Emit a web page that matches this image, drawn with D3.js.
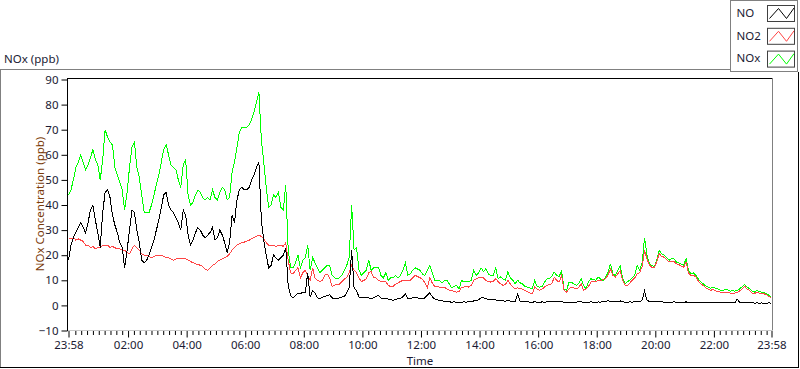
<!DOCTYPE html>
<html><head><meta charset="utf-8">
<script src="https://cdn.jsdelivr.net/npm/d3@7"></script>
<style>
html,body{margin:0;padding:0;background:#fff;}
svg{display:block;font-family:"Noto Sans",sans-serif;}
</style></head><body>
<svg id="c" width="800" height="369"></svg>
<script>
// ---- data (5-minute samples starting 23:58) ----
const NOX = [
44,46,50,55,57,60,57,54,56,59,
62,58,56,50,58,70,67,65,64,55,
52,49,46,38,45,55,63,65,55,51,
44,37,37,37,40,44,48,52,57,62,
64,60,56,55,54,50,47,56,58,44,
40,41,44,46,45,43,42,43,42,46,
43,42,45,47,46,42,43,53,57,63,
69,71,71,71,72,74,77,81,85,66,
57,47,39,40,44,43,45,39,38,48,
22,15,15,17,20,15,18,19,24,14,
19,17,15,13,14,15,16,16,12,11,
10.5,11,12,14,16,19,40,22,23,14,
12,13,14,18,14,15,15,15,12,11,
13,10,11,11,12,11,12,14,17,12,
12.5,14,15,14.5,14,12.5,12,14,16,13,
10,10,10,9,10,10,8.5,7,7.5,8,
6.5,10,9.3,9.5,9.3,10,13.9,12,13,15,
13.5,14.6,12.5,12,12,15,10.6,11.3,10.5,10,
13.3,11,10,8.6,10,9,8.6,7.5,7.3,7,
6.6,10,7.5,7.3,7.5,9.3,10.5,10.6,11.5,13.3,
12,11.3,14,6.6,6,9,9.3,8.6,8,8.6,
10.6,8,6.6,9.3,10.6,10.3,10,11.3,10.5,10,
11.3,13,16.6,12.6,11.9,14,15.9,11,8.6,9.5,
10,11,12,16,14,17,27,20,16.6,15.9,
15.5,18,21.9,20.6,20,19,18,18.5,18.6,17.3,
17,16.5,16,18.6,14,12.6,13,12,10.5,9.5,
8.6,7.8,7.3,6.8,7.3,6.8,6.6,6,6,6.3,
6.3,5.7,5.8,5.7,6,6.6,7.5,8.3,7.3,6.6,
5.8,5.3,6,5.5,5.3,5,4.6,4,3.3
];
const NO2 = [
27,26.5,27,26,26.5,26,25.5,24,24,23,
23.5,22.5,23,23,24,24,24,23,23.5,23,
22.5,22.5,22,22,21,20.5,22.5,24,23,22,
20.5,20,20,19.5,19,19.5,20,20,20,19.5,
19,19,18.5,18,18.5,18.6,18.5,18.8,18.6,18,
17.5,17,16.6,16.3,16,15.5,14.5,14,15,16,
16.5,17.5,18,18.5,19,19.5,20.5,22,23,24,
24.6,25,25.2,25.6,26,26.5,27,27.5,28,27.5,
26.5,25,24,24,24,23.5,24,24,23.5,25,
18,13,12.5,14,15,11,13,14,12,10,
15,11,10,9.5,10,12,12.5,11,7.5,8,
8.5,8.5,9.5,10.5,11,13,16,14,13,11,
9.5,10,10.5,13,13.5,11,11,10,9.5,9.5,
9.3,8,7.5,7.5,8.5,9,9.5,10,10,10,
10,11,12,11.5,11,10.5,9,7,11,9,
7.5,7.5,7.3,7,7.3,6.5,6,6,5.5,5.3,
5.5,7.3,7.3,7.5,7.3,8,10,10.5,11,11.3,
11,10,9.5,9.3,9.5,10.6,9.5,8.6,8,8.3,
10,8.5,7.5,6.6,7,6.6,6.5,6,5.5,5,
4.6,7.3,6.5,6,6.5,7.3,8,8.3,8.6,11.3,
10,9.3,11.9,6,5.3,6.5,7.3,7,6.6,7,
8.6,6,6.5,7.5,9.3,9.5,9.5,10,10,10.3,
10.6,12,14.6,12,11.3,12.5,13.9,10,8,8,
9,10,11,12.6,13,15.5,21.9,18.5,16,15.2,
15,17.5,20.6,19.5,19.2,18.3,17.3,17.5,17.6,16.6,
16.3,15.6,15.2,17.3,13,11.9,12,11.3,9.8,8.6,
8,7,6.5,6,6.3,5.8,5.5,5.3,5.2,5.3,
5.3,4.9,4.9,4.9,5.2,5.8,6.6,7.6,6.6,6,
5,4.6,5.3,4.8,4.6,4.6,4.2,3.5,2.9
];
const NO = [
18,24,27,29,31,33,31,29,33,38,
40,34,29,23,37,45,46,43,36,32,
29,25,23,15,22,30,38,37,30,25,
18,17,18,20,23,26,30,34,39,44,
45,40,38,37,35,33,30,38,36,28,
24,26,29,31,30,28,27,28,29,31,
26,27,30,28,25,21,25,36,33,42,
46,47,46,46,47,50,52,55,57,34,
26,20,15,16,20,19,18,19,20,23,
8,4,3,4,5,4.6,5.3,5,13,3.3,
6,5,3,2.6,3.3,3.5,4,4.2,3,2.6,
2.8,3,3.3,3.5,5,7,22,7,6,3.3,
3,3.3,3.3,3,2.6,3,3.5,4,3,2.6,
2.8,2.5,2.3,2,2.4,2.6,2.8,3.5,4.6,2.6,
2.8,3,3.3,3,2.8,2.6,3,4,5,3.5,
2.6,2.3,2,1.8,1.6,1.5,1.4,1.3,1.4,1.3,
1.3,1.3,1.4,1.3,1.5,1.4,1.8,2,2.2,3,
3,2.6,2.4,2.3,2.5,2.2,2,2,1.8,1.7,
2,1.7,1.6,1.6,4.4,1.7,1.6,1.5,1.4,1.3,
1.3,1.4,1.3,1.2,1.4,1.3,1.4,1.5,1.4,1.6,
1.5,1.4,1.5,1.2,1.1,1.3,1.3,1.2,1.3,1.4,
1.5,1.2,1.2,1.3,1.4,1.3,1.2,1.4,1.3,1.5,
1.6,1.8,1.7,1.5,1.4,1.6,1.8,1.4,1.3,1.3,
1.4,1.3,1.5,1.6,1.4,2.2,5.7,2,1.6,1.5,
1.4,1.5,1.6,1.4,1.3,1.2,1.3,1.2,1.4,1.3,
1.2,1.1,1.2,1.4,1.1,1,1.1,1,1.2,1,
1.1,1,1.2,1.1,1,1.1,1,1.2,1.1,1,
1.1,1.3,1.2,1,2.5,1.1,1,1.2,1,1,
1.1,0.9,1,0.9,1,0.8,0.9,1,0.8
];
const xTickLabels = ["23:58","02:00","04:00","06:00","08:00","10:00","12:00","14:00","16:00","18:00","20:00","22:00","23:58"];
const yTickValues = [-10,0,10,20,30,40,50,60,70,80,90];
const seriesNames = ["NO","NO2","NOx"];
const seriesColors = ["#000000","#ff4545","#00ff00"];
const stepMinutes = 5;

// ---- setup ----
const svg = d3.select("#c");
const start = new Date(2000,0,1,23,58);
const end = new Date(2000,0,2,23,58);
const times = NO.map((_,i)=> new Date(start.getTime()+i*stepMinutes*60000));

const x = d3.scaleTime().domain([start,end]).range([68.5,771.5]);
const y = d3.scaleLinear().domain([-10,90]).range([330.5,79.5]);

const labelColor = "#1a1a33";

// outer panel frame
svg.append("line").attr("x1",0).attr("x2",731).attr("y1",69.5).attr("y2",69.5).attr("stroke","#808080");
svg.append("line").attr("x1",0.5).attr("x2",0.5).attr("y1",69).attr("y2",368).attr("stroke","#808080");
svg.append("line").attr("x1",0).attr("x2",799).attr("y1",367.5).attr("y2",367.5).attr("stroke","#000");
svg.append("line").attr("x1",798.5).attr("x2",798.5).attr("y1",72).attr("y2",368).attr("stroke","#000");

// title
svg.append("text").attr("x",4).attr("y",62.5).attr("font-size","11.5px").attr("fill",labelColor).text("NOx (ppb)");

// plot frame
svg.append("line").attr("x1",67).attr("x2",773).attr("y1",78.5).attr("y2",78.5).attr("stroke","#000");
svg.append("line").attr("x1",772.5).attr("x2",772.5).attr("y1",78).attr("y2",331).attr("stroke","#808080");
svg.append("line").attr("x1",67).attr("x2",773).attr("y1",330.5).attr("y2",330.5).attr("stroke","#c8c8c8");

// clip
svg.append("clipPath").attr("id","clip").append("rect").attr("x",68).attr("y",79).attr("width",704).attr("height",252);

// lines: NOx, NO2, NO (black on top)
const series = [NO, NO2, NOX];
const order = [2,1,0];
const g = svg.append("g").attr("clip-path","url(#clip)");
order.forEach(k=>{
  const line = d3.line().x((d,i)=>x(times[i])).y(d=>y(d));
  g.append("path").datum(series[k]).attr("fill","none").attr("stroke",seriesColors[k])
   .attr("stroke-width",1).attr("shape-rendering","crispEdges").attr("d",line);
});

// left axis line
svg.append("line").attr("x1",67.5).attr("x2",67.5).attr("y1",78).attr("y2",331).attr("stroke","#000");

// y axis
const yAxis = d3.axisLeft(y).tickValues(yTickValues).tickSize(6).tickPadding(3).tickFormat(d3.format("d"));
const ya = svg.append("g").attr("transform","translate(67.5,0)").call(yAxis);
ya.select(".domain").remove();
ya.selectAll("line").attr("stroke","#000");
ya.selectAll("text").attr("font-size","11.5px").attr("fill",labelColor).attr("font-family","Noto Sans");

// x axis: major and minor ticks
const parseT = (s,i)=>{ const [h,m]=s.split(":").map(Number); return new Date(2000,0, i===0?1:2, h, m); };
const majorDates = xTickLabels.map(parseT);
const minorDates = [];
for (let t = new Date(2000,0,2,0,12); t < end; t = new Date(t.getTime()+12*60000)) {
  if (t.getMinutes()!==0 || t.getHours()%2!==0) minorDates.push(t);
}
const xMinor = d3.axisBottom(x).tickValues(minorDates).tickSize(4).tickFormat("");
const xm = svg.append("g").attr("transform","translate(0,331)").call(xMinor);
xm.select(".domain").remove();
xm.selectAll("line").attr("stroke","#000");
const xAxis = d3.axisBottom(x).tickValues(majorDates).tickSize(6.5).tickPadding(3)
  .tickFormat((d,i)=>xTickLabels[i]);
const xa = svg.append("g").attr("transform","translate(0,331)").call(xAxis);
xa.select(".domain").remove();
xa.selectAll("line").attr("stroke","#000");
xa.selectAll("text").attr("font-size","11.5px").attr("fill",labelColor).attr("font-family","Noto Sans");

// axis titles
svg.append("text").attr("x",420).attr("y",364.5).attr("text-anchor","middle")
  .attr("font-size","11.5px").attr("fill",labelColor).text("Time");
svg.append("text").attr("transform","translate(43.5,204) rotate(-90)").attr("text-anchor","middle")
  .attr("font-size","11.5px").attr("fill","#7a3a08").text("NOx Concentration (ppb)");

// legend
svg.append("rect").attr("x",730.5).attr("y",0.5).attr("width",67).attr("height",71)
  .attr("fill","#fff").attr("stroke","#808080");
const lg = svg.append("g");
seriesNames.forEach((name,k)=>{
  const top = 5 + k*22.8;
  lg.append("text").attr("x",736.5).attr("y",top+11.8).attr("font-size","11.5px").attr("fill",labelColor).text(name);
  lg.append("rect").attr("x",767.5).attr("y",top+0.5).attr("width",27).attr("height",16)
    .attr("fill","#fff").attr("stroke","#404040");
  lg.append("polyline").attr("points",[[769.5,top+13.5],[778.5,top+3.5],[786.5,top+13.5],[794,top+3]].map(p=>p.join(",")).join(" "))
    .attr("fill","none").attr("stroke",seriesColors[k]).attr("stroke-width",1);
});
</script>
</body></html>
